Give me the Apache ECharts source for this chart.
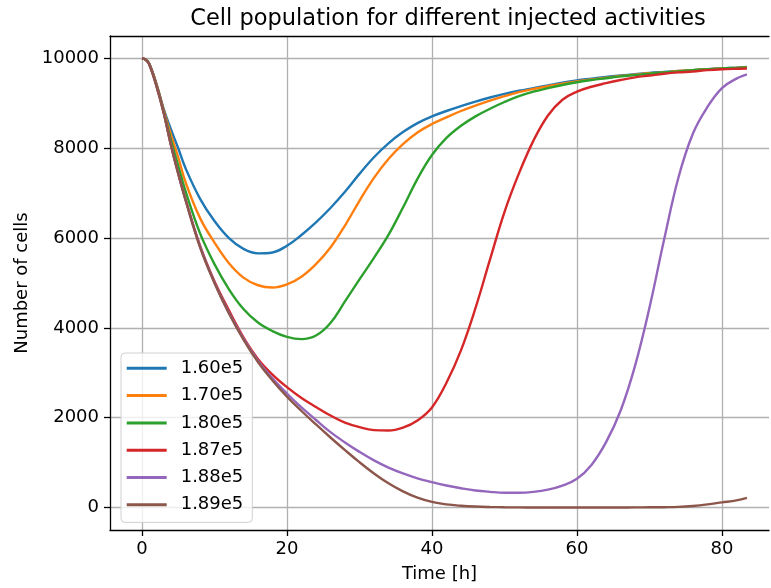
<!DOCTYPE html>
<html>
<head>
<meta charset="utf-8">
<script src="https://cdn.jsdelivr.net/npm/echarts@6/dist/echarts.min.js"></script>
<style>html,body{margin:0;padding:0;background:#fff;}#c{width:771px;height:588px;}</style>
</head>
<body>
<div id="c"></div>
<script>
var titleText = 'Cell population for different injected activities';
var xName = 'Time [h]';
var yName = 'Number of cells';
var xTicks = [0, 20, 40, 60, 80];
var yTicks = [0, 2000, 4000, 6000, 8000, 10000];
var seriesNames = ['1.60e5', '1.70e5', '1.80e5', '1.87e5', '1.88e5', '1.89e5'];
var colors = ['#1f77b4', '#ff7f0e', '#2ca02c', '#d62728', '#9467bd', '#8c564b'];

var times = [0, 0.5, 1, 2, 3, 4, 5, 6, 8, 10, 12, 14, 16, 18, 20, 22, 24, 26, 28, 30, 32, 34, 36, 38, 40,
  42, 44, 46, 48, 50, 52, 54, 56, 58, 60, 62, 64, 66, 68, 70, 72, 74, 76, 78, 80, 82, 83.45];

var a160 = [10000, 9975, 9880, 9430, 8870, 8420, 8000, 7560, 6880, 6380, 6000, 5760, 5660, 5680, 5830, 6070, 6350, 6670, 7030, 7430, 7800, 8110, 8360, 8560, 8710,
  8830, 8940, 9040, 9130, 9210, 9280, 9340, 9400, 9460, 9510, 9550, 9590, 9620, 9650, 9680, 9700, 9720, 9740, 9760, 9780, 9795, 9810];
var a170 = [10000, 9975, 9880, 9430, 8850, 8300, 7800, 7250, 6450, 5900, 5440, 5120, 4950, 4900, 4970, 5140, 5420, 5790, 6280, 6830, 7340, 7760, 8090, 8350, 8540,
  8690, 8830, 8950, 9060, 9160, 9250, 9320, 9380, 9440, 9490, 9530, 9570, 9610, 9640, 9670, 9690, 9720, 9740, 9760, 9780, 9790, 9805];
var a180 = [10000, 9975, 9880, 9420, 8830, 8180, 7610, 7050, 6110, 5420, 4860, 4420, 4120, 3930, 3800, 3750, 3830, 4110, 4590, 5080, 5560, 6070, 6680, 7320, 7850,
  8230, 8500, 8710, 8880, 9030, 9160, 9260, 9340, 9410, 9470, 9520, 9560, 9600, 9630, 9660, 9690, 9710, 9740, 9760, 9780, 9790, 9800];
var a187 = [10000, 9975, 9875, 9400, 8800, 8080, 7450, 6870, 5840, 5040, 4390, 3790, 3310, 2960, 2680, 2440, 2240, 2050, 1890, 1790, 1725, 1715, 1780, 1940, 2230,
  2780, 3500, 4440, 5520, 6580, 7440, 8170, 8730, 9080, 9260, 9370, 9450, 9520, 9580, 9620, 9660, 9690, 9710, 9740, 9760, 9770, 9775];
var a188 = [10000, 9975, 9870, 9390, 8790, 8070, 7440, 6860, 5820, 5010, 4340, 3760, 3270, 2880, 2540, 2230, 1950, 1680, 1450, 1240, 1050, 890, 760, 650, 565,
  490, 430, 380, 350, 330, 330, 350, 400, 490, 640, 950, 1450, 2150, 3150, 4450, 5950, 7350, 8330, 8920, 9340, 9550, 9645];
var a189 = [10000, 9975, 9865, 9380, 8780, 8060, 7430, 6850, 5800, 5000, 4320, 3740, 3240, 2830, 2470, 2150, 1850, 1560, 1280, 1010, 760, 540, 360, 220, 125,
  70, 40, 22, 12, 6, 3, 2, 1, 1, 1, 1, 1, 2, 3, 5, 8, 14, 35, 70, 115, 160, 215];

var allValues = [a160, a170, a180, a187, a188, a189];

var font = 'DejaVu Sans, sans-serif';
var series = allValues.map(function (vals, k) {
  return {
    name: seriesNames[k],
    type: 'line',
    data: times.map(function (t, i) { return [t, vals[i]]; }),
    showSymbol: false,
    symbol: 'none',
    smooth: 0.4,
    lineStyle: { color: colors[k], width: 2.4 },
    itemStyle: { color: colors[k] },
    z: 3 + k
  };
});

var axisBlack = { color: '#000', width: 1.3 };
var chart = echarts.init(document.getElementById('c'), null, { renderer: 'canvas' });
chart.setOption({
  animation: false,
  backgroundColor: '#fff',
  color: colors,
  title: {
    text: titleText,
    left: 443,
    top: 3,
    textAlign: 'center',
    textStyle: { fontFamily: font, fontSize: 22.5, fontWeight: 'normal', color: '#000' }
  },
  legend: {
    orient: 'vertical',
    left: 121,
    top: 353,
    icon: 'rect',
    itemWidth: 40,
    itemHeight: 3,
    itemGap: 5.3,
    padding: [4.3, 9, 6.6, 5.7],
    backgroundColor: 'rgba(255,255,255,0.8)',
    borderColor: '#d0d0d0',
    borderWidth: 1,
    borderRadius: 4,
    textStyle: { fontFamily: font, fontSize: 18, color: '#000', lineHeight: 22, padding: [0, 0, 0, 9] },
    data: seriesNames
  },
  grid: {
    left: 110,
    top: 36,
    width: 659,
    bottom: 55,
    show: false
  },
  xAxis: [{
    type: 'value',
    min: -4.41,
    max: 86.49,
    name: xName,
    nameLocation: 'middle',
    nameGap: 35,
    nameTextStyle: { fontFamily: font, fontSize: 18, color: '#000' },
    axisLine: { show: true, onZero: false, lineStyle: axisBlack },
    axisTick: { show: true, inside: false, length: 6, lineStyle: axisBlack, customValues: xTicks },
    axisLabel: { fontFamily: font, fontSize: 18, color: '#000', margin: 10, customValues: xTicks },
    splitLine: { show: true, lineStyle: { color: '#b0b0b0', width: 1.3 } }
  }, {
    type: 'value',
    position: 'top',
    min: -4.41,
    max: 86.49,
    axisLine: { show: true, onZero: false, lineStyle: axisBlack },
    axisTick: { show: false },
    axisLabel: { show: false },
    splitLine: { show: false }
  }],
  yAxis: {
    type: 'value',
    min: -500,
    max: 10500,
    name: yName,
    nameLocation: 'middle',
    nameGap: 76,
    nameRotate: 90,
    nameTextStyle: { fontFamily: font, fontSize: 18, color: '#000' },
    axisLine: { show: true, onZero: false, lineStyle: axisBlack },
    axisTick: { show: true, inside: false, length: 6, lineStyle: axisBlack, customValues: yTicks },
    axisLabel: {
      fontFamily: font, fontSize: 18, color: '#000', margin: 11, customValues: yTicks,
      formatter: function (v) { return String(v); }
    },
    splitLine: { show: true, lineStyle: { color: '#b0b0b0', width: 1.3 } }
  },
  series: series
});
</script>
</body>
</html>
